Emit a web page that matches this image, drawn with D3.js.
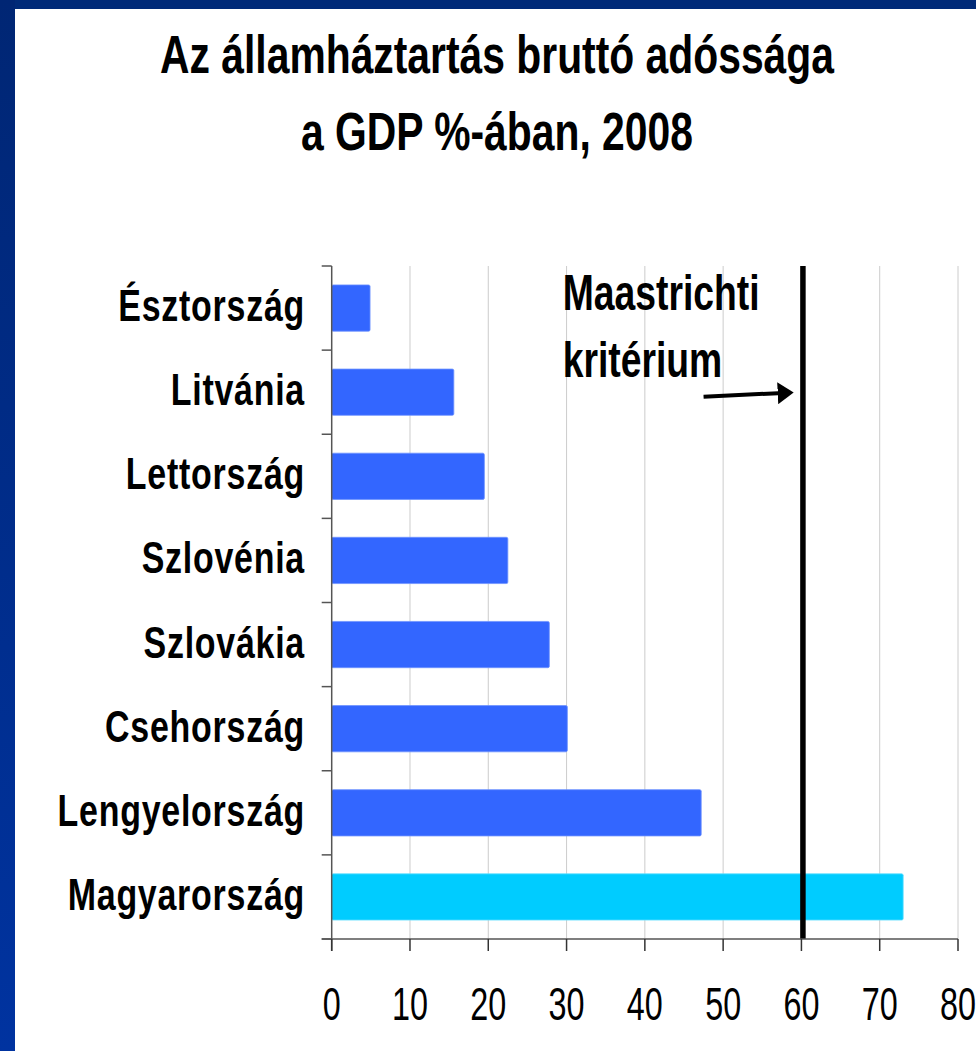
<!DOCTYPE html>
<html>
<head>
<meta charset="utf-8">
<script src="https://cdn.jsdelivr.net/npm/d3@7"></script>
<style>
html,body{margin:0;padding:0;background:#fff;}
svg{display:block;}
</style>
</head>
<body>
<script>
// ---- data ----
const categories = ["Észtország","Litvánia","Lettország","Szlovénia","Szlovákia","Csehország","Lengyelország","Magyarország"];
const values = [4.9, 15.6, 19.5, 22.5, 27.8, 30.1, 47.2, 73.0];
const highlight = ["Magyarország"];
const xTicks = [0,10,20,30,40,50,60,70,80];
const titleLines = ["Az államháztartás bruttó adóssága","a GDP %-ában, 2008"];
const criterionValue = 60;
const criterionLabel = ["Maastrichti","kritérium"];

(function(){
const W = 976, H = 1051;
const svg = d3.select("body").append("svg").attr("width", W).attr("height", H);

function measure(fam, weight){
  const t = svg.append("text").attr("font-family", fam).attr("font-size", 50).attr("font-weight", weight).text("Magyarország 2008");
  const w = t.node().getComputedTextLength(); t.remove(); return w;
}
const wReg = measure("'Liberation Sans'", "bold");
const wNar = measure("'Liberation Sans Narrow'", "bold");
const useNarrow = wNar < wReg * 0.9;
const FAM = useNarrow ? "'Liberation Sans Narrow', 'Arial Narrow', sans-serif" : "'Liberation Sans', Arial, sans-serif";
const SX = useNarrow ? 1.22 : 1;
const BASE = 0.82;

function label(parent, x, y, txt, opts){
  const g = parent.append("g").attr("transform", `translate(${x},${y}) scale(${BASE * SX * (opts.sx||1)},1)`);
  g.append("text")
    .attr("font-family", FAM)
    .attr("font-size", opts.size)
    .attr("font-weight", opts.weight || "normal")
    .attr("text-anchor", opts.anchor || "start")
    .attr("letter-spacing", opts.ls || 0)
    .attr("fill", "#000")
    .text(txt);
  return g;
}

svg.append("rect").attr("width", W).attr("height", H).attr("fill", "#fff");
const defs = svg.append("defs");
const grad = defs.append("linearGradient").attr("id","frameGrad").attr("x1",0).attr("y1",0).attr("x2",0).attr("y2",1);
grad.append("stop").attr("offset","0%").attr("stop-color","#002674");
grad.append("stop").attr("offset","100%").attr("stop-color","#0033a0");
svg.append("rect").attr("x",0).attr("y",0).attr("width",W).attr("height",9).attr("fill","#002a78");
svg.append("rect").attr("x",0).attr("y",0).attr("width",15).attr("height",H).attr("fill","url(#frameGrad)");

titleLines.forEach((t,i)=>{
  label(svg, 497, 73 + i*77, t, {size:53, weight:"bold", anchor:"middle", sx:0.94});
});

const x = d3.scaleLinear().domain([0,80]).range([331.7, 958]);
const y = d3.scaleBand().domain(categories).range([266, 939]).paddingInner(0.45).paddingOuter(0.225);
const yTop = 266, yBot = 939;

svg.append("g").selectAll("line").data(xTicks.filter(d=>d>0)).join("line")
  .attr("x1", d=>x(d)).attr("x2", d=>x(d)).attr("y1", yTop).attr("y2", yBot)
  .attr("stroke", "#cccccc").attr("stroke-width", 1);

svg.append("g").selectAll("rect").data(categories).join("rect")
  .attr("x", x(0)).attr("y", d=>y(d))
  .attr("width", (d,i)=>x(values[i]) - x(0))
  .attr("height", y.bandwidth())
  .attr("rx", 1.5)
  .attr("fill", d=> highlight.includes(d) ? "#00ccff" : "#3366ff")
  .attr("stroke", d=> highlight.includes(d) ? "#66e0ff" : "#6f93ff")
  .attr("stroke-width", 0.8);

svg.append("line").attr("x1", x(criterionValue)+1.5).attr("x2", x(criterionValue)+1.5)
  .attr("y1", yTop).attr("y2", yBot).attr("stroke","#000").attr("stroke-width",5.5);

const step = y.step();
const bounds = d3.range(categories.length+1).map(i => yTop + i*step);
svg.append("line").attr("x1", x(0)).attr("x2", x(0)).attr("y1", yTop).attr("y2", yBot+12)
  .attr("stroke","#555").attr("stroke-width",1.5);
svg.append("g").selectAll("line").data(bounds).join("line")
  .attr("x1", x(0)-10).attr("x2", x(0)).attr("y1", d=>d).attr("y2", d=>d)
  .attr("stroke","#555").attr("stroke-width",1.5);

svg.append("line").attr("x1", x(0)-10).attr("x2", x(80)).attr("y1", yBot).attr("y2", yBot)
  .attr("stroke","#555").attr("stroke-width",1.5);
svg.append("g").selectAll("line").data(xTicks).join("line")
  .attr("x1", d=>x(d)).attr("x2", d=>x(d)).attr("y1", yBot).attr("y2", yBot+12)
  .attr("stroke","#333").attr("stroke-width",1.5);

xTicks.forEach(t=>{
  label(svg, x(t), 1020, String(t), {size:47, anchor:"middle", sx:0.84});
});

categories.forEach(c=>{
  label(svg, 305, y(c) + y.bandwidth()/2 + 13, c, {size:45, weight:"bold", anchor:"end", ls:1, sx:0.92});
});

label(svg, x(29.5), 310, criterionLabel[0], {size:50, weight:"bold", sx:0.91});
label(svg, x(29.5), 377, criterionLabel[1], {size:50, weight:"bold", sx:0.91});

const ay = y("Litvánia") + y.bandwidth()/2;
defs.append("marker").attr("id","ah").attr("viewBox","0 0 10 10").attr("refX",7).attr("refY",5)
  .attr("markerWidth",4).attr("markerHeight",5.5).attr("orient","auto").attr("markerUnits","strokeWidth")
  .attr("preserveAspectRatio","none")
  .append("path").attr("d","M0,0 L10,5 L0,10 z").attr("fill","#000");
svg.append("line").attr("x1", x(47.5)).attr("y1", ay+4.5).attr("x2", x(58.4)).attr("y2", ay+0.5)
  .attr("stroke","#000").attr("stroke-width",4).attr("marker-end","url(#ah)");
})();
</script>
</body>
</html>
